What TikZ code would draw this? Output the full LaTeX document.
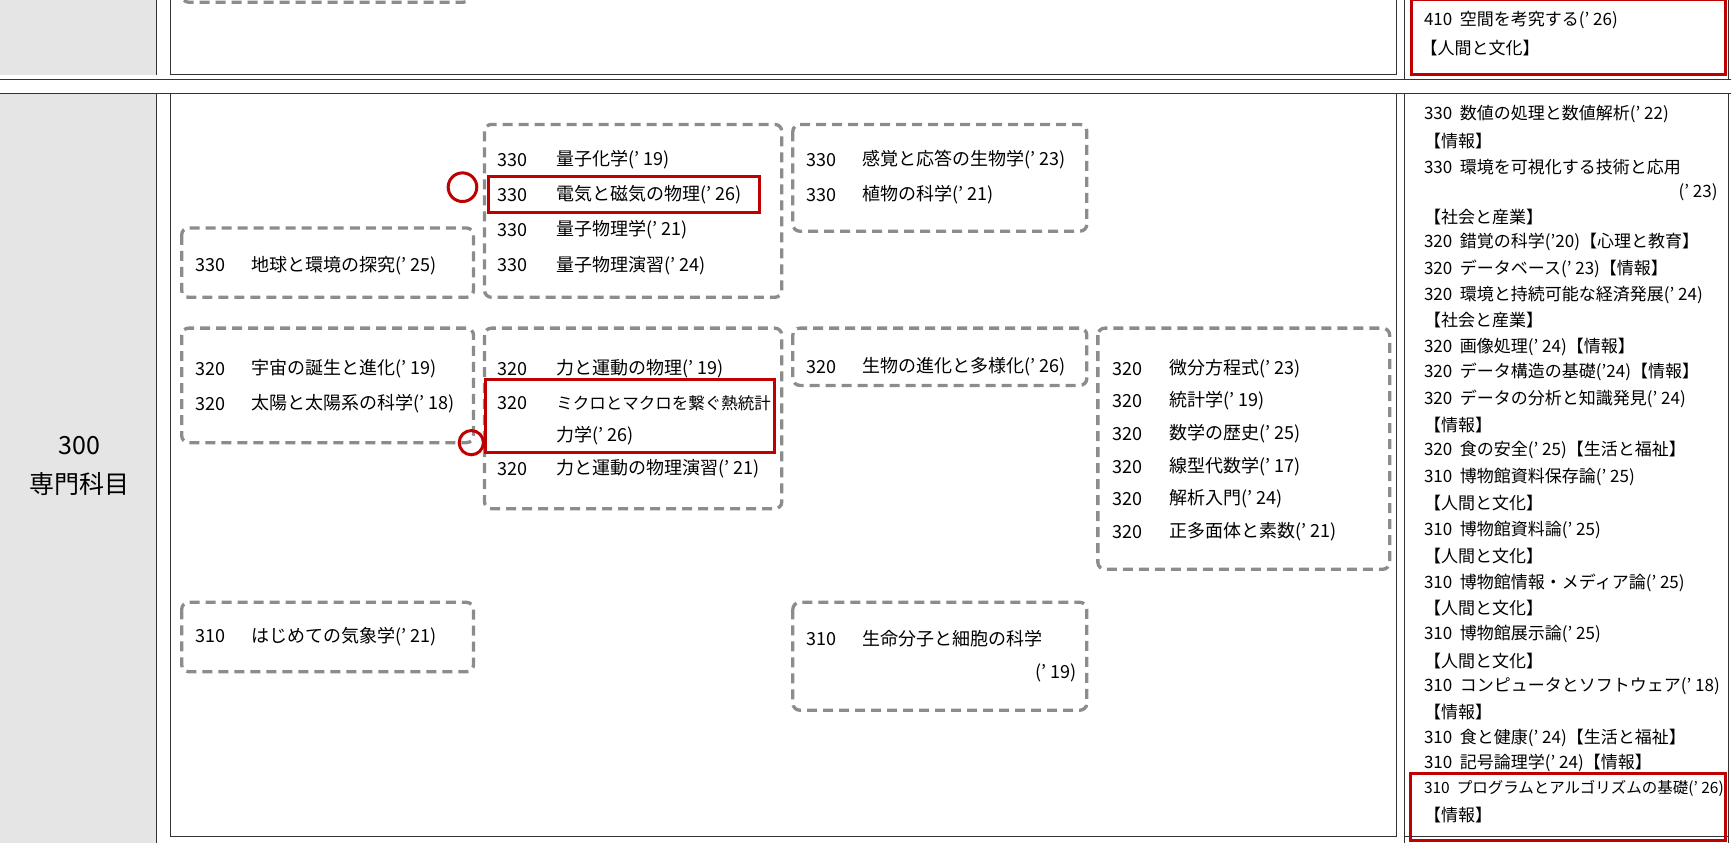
\documentclass[tikz,border=0pt]{standalone}
\usepackage{fontspec}
\setmainfont{Noto Sans CJK JP}
\begin{document}
\begin{tikzpicture}[x=1.101pt,y=-1.101pt,
 dbox/.style={draw=black!45,line width=3.3pt,dash pattern=on 10pt off 6pt,rounded corners=7pt},
 rbox/.style={draw=red!75!black,line width=3pt},
 frame/.style={draw=black!80,line width=0.8pt},
 t/.style={anchor=west,inner sep=0,font=\fontsize{18}{20}\selectfont},
 r/.style={anchor=west,inner sep=0,font=\fontsize{17}{19}\selectfont}]
\useasboundingbox (0,0) rectangle (1572,765.7);
% frames
\fill[black!10] (0,0) rectangle (142,68);
\fill[black!10] (0,85) rectangle (142,765.7);
\draw[frame] (142,0)--(142,68);
\draw[frame] (142,85)--(142,765.7);
\draw[frame] (0,72)--(1572,72);
\draw[frame] (0,85)--(1572,85);
\draw[frame] (155,0)--(155,68)--(1268,68)--(1268,0);
\draw[frame] (155,85) rectangle (1268,760);
\draw[frame] (1275,0)--(1275,72);
\draw[frame] (1275,85)--(1275,765.7);
\draw[frame] (1570,0)--(1570,72);
\draw[frame] (1570,85)--(1570,765.7);
\draw[frame] (1275,760)--(1570,760);
\begin{scope}
\clip (150,0) rectangle (440,10);
\draw[dbox] (165,-20) rectangle (427,2);
\end{scope}
% left label
\node[font=\fontsize{25}{27}\selectfont] (lab1) at (72,405) {300};
\node[font=\fontsize{25}{27}\selectfont] (lab2) at (72,440) {専門科目};
% dashed boxes
\draw[dbox] (440,113) rectangle (710,270);
\draw[dbox] (720,113) rectangle (987,210);
\draw[dbox] (165,207) rectangle (430,270);
\draw[dbox] (165,298) rectangle (430,402);
\draw[dbox] (440,298) rectangle (710,462);
\draw[dbox] (720,298) rectangle (987,350);
\draw[dbox] (997,298) rectangle (1262,517);
\draw[dbox] (165,547) rectangle (430,610);
\draw[dbox] (720,547) rectangle (987,645);
% red marks
\draw[rbox] (444,160) rectangle (690,193);
\draw[rbox] (441,345) rectangle (703,411);
\draw[rbox] (1282,0) rectangle (1567,68);
\draw[rbox] (1281,702) rectangle (1567,763);
\draw[rbox] (420,170) circle (13);
\draw[rbox] (428,402) circle (11);
% box A
\foreach \y/\s in {145/量子化学(' 19),177/電気と磁気の物理(' 26),209/量子物理学(' 21),241/量子物理演習(' 24)}{
 \node[t] at (452,\y) {330}; \node[t] at (505,\y) {\s};}
% box B
\foreach \y/\s in {145/感覚と応答の生物学(' 23),177/植物の科学(' 21)}{
 \node[t] at (732,\y) {330}; \node[t] at (783,\y) {\s};}
% box C
\node[t] (c1) at (177,241) {330}; \node[t] (c2) at (228,241) {地球と環境の探究(' 25)};
% box D
\foreach \y/\s in {335/宇宙の誕生と進化(' 19),367/太陽と太陽系の科学(' 18)}{
 \node[t] at (177,\y) {320}; \node[t] at (228,\y) {\s};}
% box E
\node[t] (e1) at (452,335) {320}; \node[t] (e2) at (505,335) {力と運動の物理(' 19)};
\node[t] (e3) at (452,366) {320}; \node[t,font=\fontsize{16.5}{18}\selectfont] (e4) at (505,366) {ミクロとマクロを繋ぐ熱統計};
\node[t] (e5) at (505,396) {力学(' 26)};
\node[t] (e6) at (452,426) {320}; \node[t] (e7) at (505,426) {力と運動の物理演習(' 21)};
% box F
\node[t] (f1) at (732,333) {320}; \node[t] (f2) at (783,333) {生物の進化と多様化(' 26)};
% box G
\foreach \y/\s in {335/微分方程式(' 23),364/統計学(' 19),394/数学の歴史(' 25),424/線型代数学(' 17),453/解析入門(' 24),483/正多面体と素数(' 21)}{
 \node[t] at (1010,\y) {320}; \node[t] at (1062,\y) {\s};}
% box H
\node[t] (h1) at (177,578) {310}; \node[t] (h2) at (228,578) {はじめての気象学(' 21)};
% box I
\node[t] (i1) at (732,580) {310}; \node[t] (i2) at (783,580) {生命分子と細胞の科学};
\node[t,anchor=east] (i3) at (978,611) {(' 19)};
% top right
\node[r] (tr1) at (1293,18) {410\ \ 空間を考究する(' 26)};
\node[r] (tr2) at (1290,44) {【人間と文化】};
% right column
\foreach \y/\s in {
104/330\ \ 数値の処理と数値解析(' 22),
128/【情報】,
152/330\ \ 環境を可視化する技術と応用,
197/【社会と産業】,
220/320\ \ 錯覚の科学('20)【心理と教育】,
244/320\ \ データベース(' 23)【情報】,
268/320\ \ 環境と持続可能な経済発展(' 24),
291/【社会と産業】,
315/320\ \ 画像処理(' 24)【情報】,
338/320\ \ データ構造の基礎('24)【情報】,
362/320\ \ データの分析と知識発見(' 24),
386/【情報】,
409/320\ \ 食の安全(' 25)【生活と福祉】,
433/310\ \ 博物館資料保存論(' 25),
457/【人間と文化】,
481/310\ \ 博物館資料論(' 25),
505/【人間と文化】,
529/310\ \ 博物館情報・メディア論(' 25),
552/【人間と文化】,
576/310\ \ 博物館展示論(' 25),
600/【人間と文化】,
623/310\ \ コンピュータとソフトウェア(' 18),
647/【情報】,
670/310\ \ 食と健康(' 24)【生活と福祉】,
693/310\ \ 記号論理学(' 24)【情報】,
740/【情報】}{
 \node[r] at (1293,\y) {\s};}
\node[r,anchor=east] (rr) at (1560,175) {(' 23)};
\node[r,font=\fontsize{15.5}{17}\selectfont] (rp) at (1293,716) {310\ \ プログラムとアルゴリズムの基礎(' 26)};
\end{tikzpicture}
\end{document}
